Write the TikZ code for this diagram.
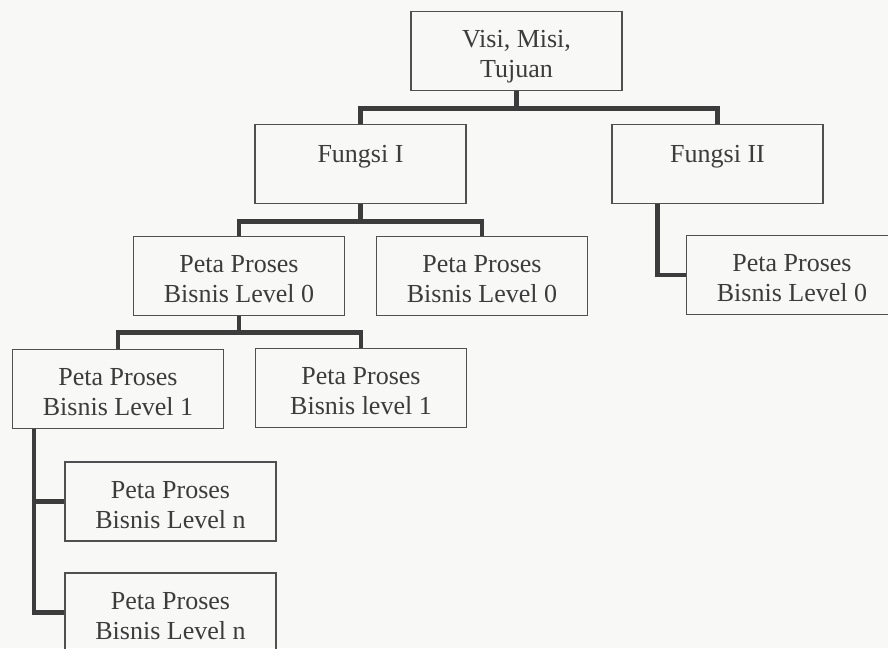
\documentclass[tikz,border=0pt]{standalone}
\usepackage{fontspec}
\setmainfont{Liberation Serif}
\usepackage{tikz}
\definecolor{greyish}{RGB}{60, 60, 60}
\definecolor{paperish}{RGB}{248, 248, 246}
\tikzset{
  petanode/.style = {align=center, inner sep=0pt, text centered,
    font=\fontsize{26}{30}\selectfont, text=greyish},
  peta_box/.style = {petanode, rectangle, draw=greyish!90, line width=1.6pt,
    minimum width=211pt, minimum height=79pt, text height=53pt, text depth=0pt},% kotak peta proses
  peta_top/.style = {peta_box, text height=57pt, text depth=5pt},% kotak visi misi
  peta_fn/.style = {peta_box, text height=23pt, text depth=27pt},% kotak fungsi, teks di atas
  peta_link/.style = {draw=greyish, line width=4.5pt, line join=miter},% garis hierarki
}

\begin{document}
\begin{tikzpicture}[x=1pt, y=-1pt]
\useasboundingbox (0,0) rectangle (888,648);
\clip (0,0) rectangle (888,648);
\fill [paperish] (0,0) rectangle (888,648);

\node [peta_top] (visi) at (516.5,51) {Visi, Misi,\\Tujuan};
\node [peta_fn] (fungsi_a) at (360.5,164) {Fungsi I};
\node [peta_fn] (fungsi_b) at (717.5,164) {Fungsi II};
\node [peta_box] (peta0_a) at (239,276) {Peta Proses\\Bisnis Level 0};
\node [peta_box] (peta0_b) at (482,276) {Peta Proses\\Bisnis Level 0};
\node [peta_box] (peta0_c) at (792,275) {Peta Proses\\Bisnis Level 0};
\node [peta_box] (peta1_a) at (118,389) {Peta Proses\\Bisnis Level 1};
\node [peta_box] (peta1_b) at (361,388) {Peta Proses\\Bisnis level 1};
\node [peta_box] (petan_a) at (170.5,501.5) {Peta Proses\\Bisnis Level n};
\node [peta_box] (petan_b) at (170.5,612.5) {Peta Proses\\Bisnis Level n};

\draw [peta_link] (visi.south) -- ++(0,17) coordinate (visi_mid);
\draw [peta_link] (fungsi_a.north) |- (visi_mid) -| (fungsi_b.north);
\draw [peta_link] (fungsi_a.south) -- ++(0,17) coordinate (fungsi_mid);
\draw [peta_link] (peta0_a.north) |- (fungsi_mid) -| (peta0_b.north);
\draw [peta_link] ([xshift=-60pt]fungsi_b.south) |- (peta0_c.west);
\draw [peta_link] (peta0_a.south) -- ++(0,16) coordinate (peta0_mid);
\draw [peta_link] (peta1_a.north) |- (peta0_mid) -| (peta1_b.north);
\draw [peta_link] ([xshift=-84pt]peta1_a.south) |- (petan_a.west);
\draw [peta_link] ([xshift=-84pt]peta1_a.south) |- (petan_b.west);
\end{tikzpicture}
\end{document}
